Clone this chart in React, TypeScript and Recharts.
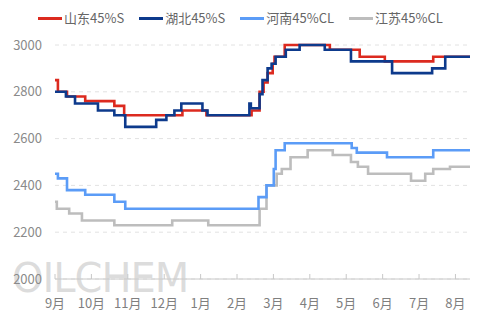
import { LineChart, Line, XAxis, YAxis, CartesianGrid } from "recharts"

const MONTHS = ["9月", "10月", "11月", "12月", "1月", "2月", "3月", "4月", "5月", "6月", "7月", "8月"]
const Y_TICKS = [2000, 2200, 2400, 2600, 2800, 3000]

// x = months since 1 Sept (fractional), y = price
const shandongX = [0, 0.08, 0.33, 0.83, 1.63, 1.9, 3.5, 4.16, 5.4, 5.62, 5.73, 5.84, 5.98, 6.03, 6.31, 7.55, 8.37, 9.06, 10.39, 11.4]
const shandongY = [2850, 2800, 2780, 2760, 2740, 2700, 2720, 2700, 2720, 2800, 2840, 2880, 2920, 2950, 3000, 2980, 2950, 2930, 2950, 2950]

const hubeiX = [0, 0.3, 0.55, 1.18, 1.63, 1.93, 2.78, 3.06, 3.28, 3.47, 4.05, 4.19, 5.34, 5.38, 5.62, 5.7, 5.84, 5.95, 6.06, 6.34, 6.72, 7.41, 8.13, 9.26, 10.36, 10.72, 11.4]
const hubeiY = [2800, 2780, 2750, 2720, 2700, 2650, 2680, 2700, 2720, 2750, 2720, 2700, 2750, 2730, 2790, 2850, 2900, 2920, 2950, 2980, 3000, 2980, 2930, 2880, 2900, 2950, 2950]

const henanX = [0, 0.08, 0.33, 0.83, 1.63, 1.93, 5.59, 5.81, 6.01, 6.06, 6.31, 8.15, 8.29, 9.12, 10.39, 11.4]
const henanY = [2450, 2430, 2380, 2360, 2330, 2300, 2350, 2400, 2470, 2550, 2580, 2560, 2540, 2520, 2550, 2550]

const jiangsuX = [0, 0.05, 0.39, 0.74, 1.63, 3.22, 4.21, 5.62, 5.81, 6.09, 6.23, 6.47, 6.94, 7.63, 8.13, 8.32, 8.6, 9.78, 10.17, 10.39, 10.85, 11.4]
const jiangsuY = [2330, 2300, 2280, 2250, 2230, 2250, 2230, 2300, 2400, 2450, 2470, 2520, 2550, 2530, 2500, 2480, 2450, 2420, 2450, 2470, 2480, 2480]

const toPoints = (xs: number[], ys: number[]) => xs.map((m, i) => ({ m, v: ys[i] }))

const SERIES = [
  { name: "山东45%S", color: "#dc2a1f", data: toPoints(shandongX, shandongY) },
  { name: "湖北45%S", color: "#0d3a8c", data: toPoints(hubeiX, hubeiY) },
  { name: "河南45%CL", color: "#5b9cf7", data: toPoints(henanX, henanY) },
  { name: "江苏45%CL", color: "#bdbdbd", data: toPoints(jiangsuX, jiangsuY) },
]

const FONT = '"Noto Sans CJK SC", "Noto Sans", sans-serif'

function ChartLegend() {
  return (
    <div
      style={{
        position: "absolute",
        top: 8,
        left: 38,
        display: "flex",
        gap: 15,
        fontFamily: FONT,
        fontSize: 13,
        color: "#666",
        lineHeight: "20px",
      }}
    >
      {SERIES.map((s) => (
        <div key={s.name} style={{ display: "flex", alignItems: "center" }}>
          <span style={{ width: 24, height: 3, background: s.color, marginRight: 2 }} />
          {s.name}
        </div>
      ))}
    </div>
  )
}

export default function App() {
  const drawOrder = [3, 2, 0, 1]
  return (
    <div style={{ position: "absolute", left: 0, top: 0, width: 480, height: 320, background: "#fff" }}>
      <div
        style={{
          position: "absolute",
          left: 12,
          top: 255,
          fontFamily: '"DejaVu Sans", sans-serif',
          fontSize: 40,
          letterSpacing: -1,
          color: "rgba(185,185,185,0.5)",
        }}
      >
        OILCHEM
      </div>
      <ChartLegend />
      <LineChart width={480} height={320} margin={{ top: 45, right: 10, bottom: 11, left: 0 }}>
        <CartesianGrid vertical={false} stroke="#e2e2e2" strokeDasharray="4 4" />
        <XAxis
          dataKey="m"
          type="number"
          domain={[0, 11.4]}
          ticks={MONTHS.map((_, i) => i)}
          tickFormatter={(i) => MONTHS[i]}
          allowDuplicatedCategory={false}
          stroke="#c8c8c8"
          tickSize={-5}
          tickMargin={25}
          height={30}
          tick={{ fill: "#7f7f7f", fontSize: 13, fontFamily: FONT }}
        />
        <YAxis
          domain={[2000, 3000]}
          ticks={Y_TICKS}
          width={55}
          axisLine={false}
          tickLine={false}
          tickMargin={7}
          tick={{ fill: "#8a8a8a", fontSize: 13, fontFamily: FONT }}
        />
        {drawOrder.map((i) => {
          const s = SERIES[i]
          return (
            <Line
              key={s.name}
              data={s.data}
              dataKey="v"
              name={s.name}
              type="stepAfter"
              stroke={s.color}
              strokeWidth={2.6}
              dot={false}
              activeDot={false}
              isAnimationActive={false}
            />
          )
        })}
      </LineChart>
    </div>
  )
}
